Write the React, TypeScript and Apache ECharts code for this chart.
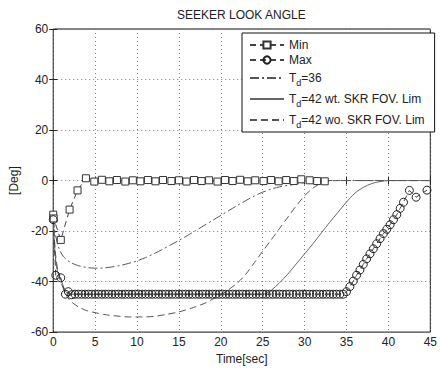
import React, { useEffect, useRef } from 'react';
import * as echarts from 'echarts';

const xTickStep = 5;
const yTickStep = 20;

// Min (squares)
const minPts: number[][] = [
  [0, -13.5], [0.05, -15], [0.9, -23.5], [1.95, -11.5], [2.9, -3.9], [3.9, 0.9], [4.9, -0.4],
  [5.8, 0.3], [6.7, -0.3], [7.6, 0.2], [8.6, -0.4], [9.5, 0.1], [10.4, -0.3], [11.3, 0.2],
  [12.2, -0.3], [13.1, 0.2], [14.1, -0.2], [15.0, 0.1], [15.9, -0.4], [16.8, 0.2], [17.7, -0.2],
  [18.6, 0.1], [19.6, -0.4], [20.5, 0.2], [21.4, -0.2], [22.3, 0.3], [23.2, -0.3], [24.1, 0.1],
  [25.1, -0.2], [26.0, 0.2], [26.9, -0.3], [27.8, 0.2], [28.7, -0.2], [29.6, 0.5], [30.6, 0.1],
  [31.5, -0.2], [32.4, -0.3],
];

// Max (circles)
const maxPts: number[][] = [
  [0, -15.5], [0.3, -37.5], [0.9, -38.5], [1.45, -45], [1.8, -44], [2.2, -45.2],
  [2.6, -45], [3.0, -45], [3.4, -45], [3.8, -45], [4.2, -45], [4.6, -45], [5.0, -45], [5.4, -45],
  [5.8, -45], [6.2, -45], [6.6, -45], [7.0, -45], [7.4, -45], [7.8, -45], [8.2, -45], [8.6, -45],
  [9.0, -45], [9.4, -45], [9.8, -45], [10.2, -45], [10.6, -45], [11.0, -45], [11.4, -45], [11.8, -45],
  [12.2, -45], [12.6, -45], [13.0, -45], [13.4, -45], [13.8, -45], [14.2, -45], [14.6, -45], [15.0, -45],
  [15.4, -45], [15.8, -45], [16.2, -45], [16.6, -45], [17.0, -45], [17.4, -45], [17.8, -45], [18.2, -45],
  [18.6, -45], [19.0, -45], [19.4, -45], [19.8, -45], [20.2, -45], [20.6, -45], [21.0, -45], [21.4, -45],
  [21.8, -45], [22.2, -45], [22.6, -45], [23.0, -45], [23.4, -45], [23.8, -45], [24.2, -45], [24.6, -45],
  [25.0, -45], [25.4, -45], [25.8, -45], [26.2, -45], [26.6, -45], [27.0, -45], [27.4, -45], [27.8, -45],
  [28.2, -45], [28.6, -45], [29.0, -45], [29.4, -45], [29.8, -45], [30.2, -45], [30.6, -45], [31.0, -45],
  [31.4, -45], [31.8, -45], [32.2, -45], [32.6, -45], [33.0, -45], [33.4, -45], [33.8, -45], [34.2, -45],
  [34.6, -45],
  [35.0, -44], [35.4, -42], [35.8, -39.8], [36.2, -37.5], [36.6, -35.4], [37.0, -33.2], [37.4, -31],
  [37.8, -29], [38.2, -27], [38.6, -25], [39.0, -23], [39.4, -21], [39.8, -19.3], [40.2, -17.5],
  [40.6, -15.5], [41.0, -13.5], [41.4, -11], [41.8, -8.6], [42.5, -3.9], [43.3, -6.6], [44.6, -3.8],
];

// Td = 36 (dash-dot)
const td36Pts: number[][] = [
  [0, -15], [0.3, -22], [0.7, -27], [1.2, -30], [2, -32.3], [3, -33.7], [4, -34.4], [5, -34.7],
  [6, -34.6], [7, -34.2], [8, -33.6], [9, -32.8], [10, -31.8], [11, -30.5], [12, -29], [13, -27.3],
  [14, -25.5], [15, -23.7], [16, -21.8], [17, -19.8], [18, -17.8], [19, -15.8], [20, -13.8],
  [21, -11.8], [22, -9.8], [23, -7.9], [24, -6.1], [25, -4.6], [26, -3.4], [27, -2.5], [28, -1.9],
  [29, -1.4], [30, -0.8], [31, -0.3], [32, 0], [45, 0],
];

// Td = 42 with seeker FOV limit (solid)
const wtPts: number[][] = [
  [0, -15], [0.2, -28], [0.5, -36], [1, -40], [1.5, -44], [2, -45], [25, -45], [25.5, -44.5],
  [26, -43.5], [27, -40.5], [28, -37], [29, -33], [30, -29], [31, -25], [32, -20.7], [33, -16.5],
  [34, -12.5], [35, -8.5], [36, -5], [37, -2.7], [38, -1.2], [39, -0.4], [40, 0], [45, 0],
];

// Td = 42 without seeker FOV limit (dashed)
const woPts: number[][] = [
  [0, -15], [0.3, -30], [0.7, -38], [1, -41], [1.5, -45], [2, -47.5], [3, -50], [4, -51.5],
  [5, -52.3], [6, -53], [7.5, -53.6], [9, -54], [10.5, -54], [12, -53.8], [13.5, -53], [15, -52],
  [16.5, -50.5], [18, -48.7], [19, -47], [20, -45.3], [21, -43], [22, -40.5], [23, -37], [24, -32.5],
  [25, -28], [26, -23.5], [27, -19], [28, -14.5], [29, -10], [30, -6], [31, -3], [32, -1],
  [33, -0.2], [34, 0], [45, 0],
];

const legendNames = ['Min', 'Max', 'Td=36', 'Td=42 wt. SKR FOV. Lim', 'Td=42 wo. SKR FOV. Lim'];

const FONT = 'Liberation Sans, Arial, sans-serif';
const INK = '#222';

export default function App() {
  const ref = useRef<HTMLDivElement>(null);
  useEffect(() => {
    const chart = echarts.init(ref.current!, null, { renderer: 'svg' });
    const axisCommon = {
      type: 'value',
      axisLine: { show: false },
      axisTick: { show: true, inside: true, length: 4, lineStyle: { color: INK } },
    };
    chart.setOption({
      animation: false,
      backgroundColor: '#fff',
      textStyle: { fontFamily: FONT },
      title: {
        text: 'SEEKER LOOK ANGLE',
        left: 172,
        top: 4,
        textStyle: { fontSize: 12, fontWeight: 'normal', color: INK, fontFamily: FONT },
      },
      grid: { left: 46, right: 4, top: 29, bottom: 33, show: true, borderColor: '#111', borderWidth: 1, backgroundColor: 'transparent' },
      legend: {
        orient: 'vertical',
        left: 242,
        top: 33,
        width: 176,
        padding: [6, 10, 3, 7],
        itemGap: 3,
        itemWidth: 34,
        itemHeight: 9,
        backgroundColor: '#fff',
        borderColor: '#111',
        borderWidth: 1,
        borderRadius: 0,
        data: legendNames.map((n) =>
          n.startsWith('Td') ? { name: n, itemStyle: { opacity: 0 } } : { name: n }
        ),
        formatter: (name: string) =>
          name.startsWith('Td') ? `{a|T}{s|d}{a|${name.slice(2)}}` : `{a|${name}}`,
        textStyle: {
          color: INK,
          fontFamily: FONT,
          rich: {
            a: { fontSize: 12, color: INK, fontFamily: FONT, lineHeight: 14 },
            s: { fontSize: 9, color: INK, fontFamily: FONT, lineHeight: 9, padding: [9, 0, 0, 0] },
          },
        },
      },
      xAxis: [
        {
          ...axisCommon,
          min: 0,
          max: 45,
          interval: xTickStep,
          name: 'Time[sec]',
          nameLocation: 'middle',
          nameGap: 19,
          nameTextStyle: { fontSize: 12, color: INK, fontFamily: FONT },
          axisLabel: { fontSize: 12, color: INK, margin: 4, fontFamily: FONT },
          splitLine: { show: true, lineStyle: { type: [1, 3], color: '#777', width: 1 } },
        },
        {
          ...axisCommon,
          position: 'top',
          min: 0,
          max: 45,
          interval: xTickStep,
          axisLabel: { show: false },
          splitLine: { show: false },
        },
      ],
      yAxis: [
        {
          ...axisCommon,
          min: -60,
          max: 60,
          interval: yTickStep,
          name: '[Deg]',
          nameLocation: 'middle',
          nameRotate: 90,
          nameGap: 28,
          nameTextStyle: { fontSize: 12, color: INK, fontFamily: FONT },
          axisLabel: { fontSize: 12, color: INK, margin: 5, fontFamily: FONT },
          splitLine: { show: true, lineStyle: { type: [1, 3], color: '#777', width: 1 } },
        },
        {
          ...axisCommon,
          position: 'right',
          min: -60,
          max: 60,
          interval: yTickStep,
          axisLabel: { show: false },
          splitLine: { show: false },
        },
      ],
      series: [
        {
          name: 'Min',
          type: 'line',
          data: minPts,
          symbol: 'rect',
          symbolSize: 7,
          itemStyle: { color: '#fff', borderColor: '#333', borderWidth: 1 },
          lineStyle: { color: '#444', width: 1, type: [6, 4] },
          z: 5,
        },
        {
          name: 'Max',
          type: 'line',
          data: maxPts,
          symbol: 'circle',
          symbolSize: 8,
          itemStyle: { color: 'transparent', borderColor: '#222', borderWidth: 1 },
          lineStyle: { color: '#444', width: 1, type: [6, 4] },
          z: 5,
        },
        {
          name: 'Td=36',
          type: 'line',
          data: td36Pts,
          symbol: 'none',
          smooth: 0.3,
          lineStyle: { color: '#555', width: 1, type: [9, 3, 2, 3] },
          itemStyle: { color: '#555' },
        },
        {
          name: 'Td=42 wt. SKR FOV. Lim',
          type: 'line',
          data: wtPts,
          symbol: 'none',
          smooth: 0.3,
          lineStyle: { color: '#666', width: 1, type: 'solid' },
          itemStyle: { color: '#666' },
        },
        {
          name: 'Td=42 wo. SKR FOV. Lim',
          type: 'line',
          data: woPts,
          symbol: 'none',
          smooth: 0.3,
          lineStyle: { color: '#555', width: 1, type: [7, 4] },
          itemStyle: { color: '#555' },
        },
      ],
    });
    return () => chart.dispose();
  }, []);
  return <div ref={ref} style={{ position: 'absolute', left: 0, top: 0, width: 440, height: 370 }} />;
}
